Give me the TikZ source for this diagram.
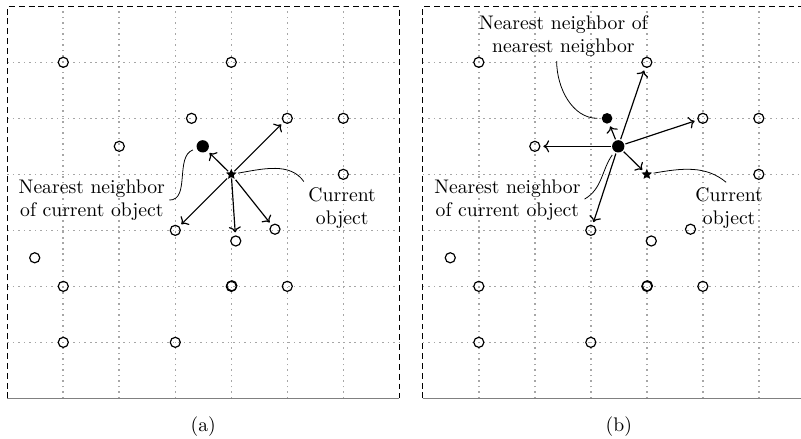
\documentclass[tikz,border=0pt]{standalone}
\usepackage{tikz}
\usetikzlibrary{shapes.geometric, arrows.meta, positioning}

\tikzset{
  obj/.style={circle, draw, semithick, inner sep=0pt, minimum size=1.8mm},
  hit/.style={circle, fill=black, inner sep=0pt, minimum size=2.2mm},
  hitsmall/.style={circle, fill=black, inner sep=0pt, minimum size=1.9mm},
  cur/.style={star, star points=5, star point ratio=2.2, fill=black, inner sep=0pt, minimum size=2mm},
  link/.style={->, semithick, shorten >=1.5pt, shorten <=0.5pt},
  callout/.style={thin, shorten <=1pt, shorten >=2pt},
  lbl/.style={align=center, inner sep=1pt},
  gridline/.style={gray!70, dotted, thick},
}
% objects that are open circles in both panels
\def\openpts{1/1/6, 2/4/6, 3/5/5, 4/6/5, 5/2/4.5, 6/6/4, 7/3/3, 8/4.08/2.81, 9/4.78/3.02, 10/0.49/2.51, 11/1/2, 12/4/2, 13/4.01/2.01, 14/5/2, 15/1/1, 16/3/1}

\begin{document}
\begin{tikzpicture}
  \useasboundingbox (-0.13,-0.709) rectangle (14.173,7.113);
  \clip (-0.13,-0.709) rectangle (14.173,7.113);

  % (a) nearest neighbor of the current object
  \begin{scope}
    \foreach \i in {1,...,6} {
      \draw[gridline] (\i,0) -- (\i,7);
      \draw[gridline] (0,\i) -- (7,\i);
    }
    \draw[densely dashed] (0,0) -- (0,7) -- (7,7) -- (7,0);
    \draw[gray] (0,0) -- (7,0);

    \foreach \n/\x/\y in \openpts
      \node[obj] (a\n) at (\x,\y) {};
    \node[obj] (annn) at (3.29,5) {};
    \node[hit] (ann) at (3.49,4.5) {};
    \node[cur] (acur) at (4,4) {};

    \draw[link] (acur) -- (ann);
    \draw[link] (acur) -- (a3);
    \draw[link] (acur) -- (a7);
    \draw[link] (acur) -- (a8);
    \draw[link] (acur) -- (a9);

    \node[lbl] (anl) at (1.51,3.54) {Nearest neighbor\\of current object};
    \node[lbl] (acl) at (5.98,3.4) {Current\\object};
    \draw[callout] (anl.east) to[out=0, in=200] (ann);
    \draw[callout] (acur) to[out=10, in=125] (acl.north west);

    \node (acap) at (3.5,-0.5) {(a)};
  \end{scope}

  % (b) nearest neighbor of the nearest neighbor
  \begin{scope}[shift={(7.42,0)}]
    \foreach \i in {1,...,6} {
      \draw[gridline] (\i,0) -- (\i,7);
      \draw[gridline] (0,\i) -- (7,\i);
    }
    \draw[densely dashed] (0,0) -- (0,7) -- (7,7) -- (7,0);
    \draw[gray] (0,0) -- (7,0);

    \foreach \n/\x/\y in \openpts
      \node[obj] (b\n) at (\x,\y) {};
    \node[hitsmall] (bnnn) at (3.29,5) {};
    \node[hit] (bnn) at (3.49,4.5) {};
    \node[cur] (bcur) at (4,4) {};

    \draw[link] (bnn) -- (b5);
    \draw[link] (bnn) -- (bnnn);
    \draw[link] (bnn) -- (b2);
    \draw[link] (bnn) -- (b3);
    \draw[link] (bnn) -- (bcur);
    \draw[link] (bnn) -- (b7);

    \node[lbl] (bnnl) at (2.51,6.47) {Nearest neighbor of\\nearest neighbor};
    \node[lbl] (bnl) at (1.51,3.54) {Nearest neighbor\\of current object};
    \node[lbl] (bcl) at (5.47,3.4) {Current\\object};
    \draw[callout] ([xshift=-0.12cm]bnnl.south) to[out=-90, in=180] (bnnn);
    \draw[callout] (bnl.east) to[out=30, in=235] (bnn);
    \draw[callout] (bcur) to[out=10, in=140] (bcl.north);

    \node (bcap) at (3.5,-0.5) {(b)};
  \end{scope}
\end{tikzpicture}
\end{document}
